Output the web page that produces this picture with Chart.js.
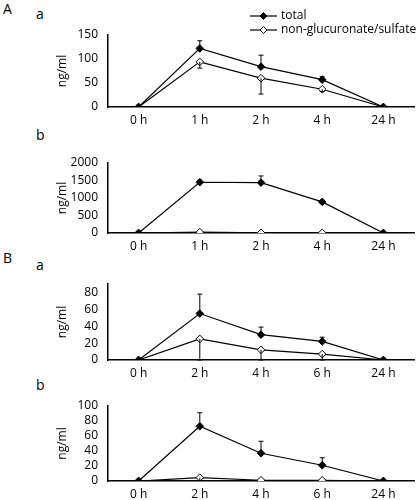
<!DOCTYPE html>
<html>
<head>
<meta charset="utf-8">
<script src="https://cdn.jsdelivr.net/npm/chart.js@4"></script>
<style>
  body { margin: 0; background: #fff; }
  #wrap { position: relative; width: 419px; height: 500px; font-family: "Open Sans", sans-serif; }
  .pane { position: absolute; left: 0; width: 419px; height: 130px; }
  .lbl { position: absolute; font-size: 14px; color: #000; line-height: 1; }
</style>
</head>
<body>
<div id="wrap">
  <div class="lbl" style="left:3px;top:2px;">A</div>
  <div class="lbl" style="left:36px;top:7px;">a</div>
  <div class="lbl" style="left:36px;top:128px;">b</div>
  <div class="lbl" style="left:3px;top:251px;">B</div>
  <div class="lbl" style="left:36px;top:258px;">a</div>
  <div class="lbl" style="left:36px;top:378px;">b</div>
  <div class="pane" style="top:0px;"><canvas id="Aa" width="419" height="130"></canvas></div>
  <div class="pane" style="top:125px;"><canvas id="Ab" width="419" height="130"></canvas></div>
  <div class="pane" style="top:250px;"><canvas id="Ba" width="419" height="130"></canvas></div>
  <div class="pane" style="top:370px;"><canvas id="Bb" width="419" height="130"></canvas></div>
</div>
<script>
// time points
const hoursA = ['0 h', '1 h', '2 h', '4 h', '24 h'];
const hoursB = ['0 h', '2 h', '4 h', '6 h', '24 h'];

// y tick values per panel
const ticksAa = [0, 50, 100, 150];
const ticksAb = [0, 500, 1000, 1500, 2000];
const ticksBa = [0, 20, 40, 60, 80];
const ticksBb = [0, 20, 40, 60, 80, 100];

// A-a
const totalAa = [0, 122, 84, 57, 0];
const totalAaErr = [0, 16, 24, 6, 0];
const nonGlucAa = [0, 94, 60, 37, 0];
const nonGlucAaErr = [0, 13, 33, 5, 0];

// A-b
const totalAb = [0, 1450, 1440, 890, 0];
const totalAbErr = [0, 60, 190, 25, 0];
const nonGlucAb = [0, 25, 5, 5, 0];
const nonGlucAbErr = [0, 0, 0, 0, 0];

// B-a
const totalBa = [0, 55, 30, 22, 0];
const totalBaErr = [0, 23, 9, 5, 0];
const nonGlucBa = [0, 25, 12, 7, 0];
const nonGlucBaErr = [0, 25, 12, 7, 0];

// B-b
const totalBb = [0, 73, 37, 21, 0];
const totalBbErr = [0, 18, 16, 10, 0];
const nonGlucBb = [0, 4.5, 1, 1, 0];
const nonGlucBbErr = [0, 4, 0, 0, 0];

const FONT = { family: '"Open Sans", sans-serif', size: 12 };

// draws error bars: total goes up, non-glucuronate/sulfate goes down
const errorBars = {
  id: 'errorBars',
  afterDatasetsDraw(chart) {
    const ctx = chart.ctx;
    const yScale = chart.scales.y;
    ctx.save();
    ctx.strokeStyle = '#000';
    ctx.lineWidth = 1;
    chart.data.datasets.forEach((ds, i) => {
      const meta = chart.getDatasetMeta(i);
      meta.data.forEach((pt, j) => {
        const e = ds.errors[j];
        if (!e) return;
        const end = ds.errDir > 0 ? ds.data[j] + e : ds.data[j] - e;
        const y0 = yScale.getPixelForValue(ds.data[j]);
        const y1 = yScale.getPixelForValue(end);
        ctx.beginPath();
        ctx.moveTo(pt.x, y0);
        ctx.lineTo(pt.x, y1);
        ctx.moveTo(pt.x - 2.5, y1);
        ctx.lineTo(pt.x + 2.5, y1);
        ctx.stroke();
      });
    });
    ctx.restore();
  }
};

// legend in panel A-a
const legendDraw = {
  id: 'legendDraw',
  afterDraw(chart) {
    if (!chart.options.plugins.legendDraw.show) return;
    const ctx = chart.ctx;
    ctx.save();
    chart.data.datasets.forEach((ds, i) => {
      const y = 16 + i * 14;
      ctx.strokeStyle = '#000';
      ctx.lineWidth = 1.2;
      ctx.beginPath();
      ctx.moveTo(250, y);
      ctx.lineTo(277, y);
      ctx.stroke();
      ctx.beginPath();
      ctx.moveTo(263.5, y - 3.5);
      ctx.lineTo(267, y);
      ctx.lineTo(263.5, y + 3.5);
      ctx.lineTo(260, y);
      ctx.closePath();
      ctx.fillStyle = ds.pointBackgroundColor;
      ctx.fill();
      ctx.lineWidth = 1;
      ctx.stroke();
      ctx.fillStyle = '#000';
      ctx.font = '12px "Open Sans", sans-serif';
      ctx.textBaseline = 'middle';
      ctx.fillText(ds.label, 281, y);
    });
    ctx.restore();
  }
};

function makePanel(id, labels, total, totalErr, nonGluc, nonGlucErr, yTicks, yMax, padTop, xHeight, showLegend) {
  new Chart(document.getElementById(id), {
    type: 'line',
    data: {
      labels: labels,
      datasets: [
        {
          label: 'total', data: total, errors: totalErr, errDir: 1,
          borderColor: '#000', borderWidth: 1.2,
          pointStyle: 'rectRot', pointRadius: 3.8,
          pointBackgroundColor: '#000', pointBorderColor: '#000', pointBorderWidth: 1
        },
        {
          label: 'non-glucuronate/sulfate', data: nonGluc, errors: nonGlucErr, errDir: -1,
          borderColor: '#000', borderWidth: 1.2,
          pointStyle: 'rectRot', pointRadius: 3.8,
          pointBackgroundColor: '#fff', pointBorderColor: '#000', pointBorderWidth: 1
        }
      ]
    },
    options: {
      responsive: false,
      animation: false,
      layout: { padding: { top: padTop, left: 0, right: 5, bottom: 0 } },
      plugins: {
        legend: { display: false },
        tooltip: { enabled: false },
        legendDraw: { show: showLegend }
      },
      scales: {
        x: {
          offset: true,
          grid: { display: false, drawTicks: false },
          border: { display: true, color: '#000', width: 1.5 },
          ticks: { color: '#000', font: FONT, padding: 6, autoSkip: false, maxRotation: 0 },
          afterFit(s) { s.height = xHeight; }
        },
        y: {
          min: 0, max: yMax,
          grid: { display: false, drawTicks: false },
          border: { display: true, color: '#000', width: 1.5 },
          ticks: { color: '#000', font: FONT, padding: 10, autoSkip: false, callback: v => String(v) },
          afterBuildTicks(s) { s.ticks = yTicks.map(v => ({ value: v })); },
          title: { display: true, text: 'ng/ml', color: '#000', font: FONT, padding: { top: 55, bottom: 0 } },
          afterFit(s) { s.width = 108; }
        }
      }
    },
    plugins: [errorBars, legendDraw]
  });
}

makePanel('Aa', hoursA, totalAa, totalAaErr, nonGlucAa, nonGlucAaErr, ticksAa, 150, 35, 23, true);
makePanel('Ab', hoursA, totalAb, totalAbErr, nonGlucAb, nonGlucAbErr, ticksAb, 2000, 38, 22, false);
makePanel('Ba', hoursB, totalBa, totalBaErr, nonGlucBa, nonGlucBaErr, ticksBa, 90, 34, 20, false);
makePanel('Bb', hoursB, totalBb, totalBbErr, nonGlucBb, nonGlucBbErr, ticksBb, 100, 36, 19, false);
</script>
</body>
</html>
